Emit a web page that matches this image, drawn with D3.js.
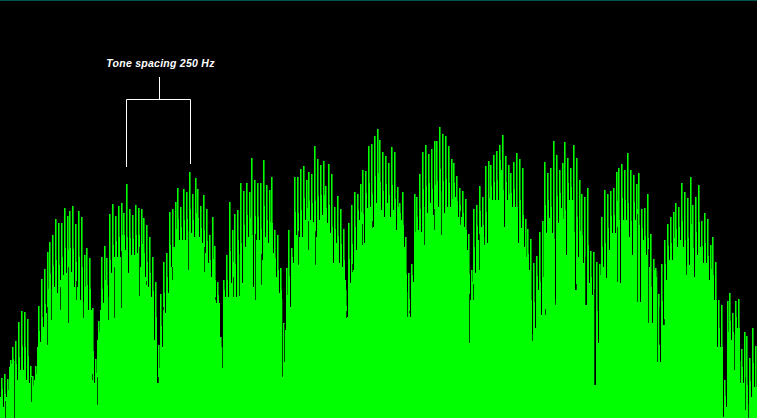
<!DOCTYPE html>
<html><head><meta charset="utf-8">
<script src="https://cdn.jsdelivr.net/npm/d3@7/dist/d3.min.js"></script>
<style>html,body{margin:0;padding:0;background:#000;overflow:hidden}svg{display:block}</style>
</head><body><svg id="c" width="757" height="418"></svg>
<script>
const peaks = [
40,44,39,58,71,77,96,107,106,99,52,42,52,112,139,149,166,176,183,199,195,195,210,202,207,212,194,207,201,163,170,160,110,59,97,161,172,160,204,214,202,212,215,205,234,209,203,213,210,209,200,193,181,161,136,73,124,156,165,206,209,216,230,211,229,226,246,224,240,229,212,223,209,183,201,172,136,81,138,163,216,188,204,208,235,227,235,226,
260,238,235,235,258,233,228,241,188,183,150,95,150,188,170,241,241,249,252,238,246,244,272,259,253,257,232,254,244,211,222,209,189,128,195,213,226,224,234,248,247,272,274,282,289,278,266,262,255,271,266,231,215,226,181,145,154,224,221,244,266,273,264,269,277,277,291,284,282,272,259,255,242,230,227,219,184,148,209,213,232,221,252,257,253,263,267,273,
283,262,253,245,256,265,259,250,199,189,179,155,162,186,197,256,245,250,277,263,248,255,276,260,250,273,260,238,224,221,230,167,166,156,154,201,228,224,227,230,246,250,254,248,265,248,243,234,245,209,210,224,184,159,150,124,154,178,194,201,206,215,211,235,226,220,241,213,221,233,197,205,199,173,181,156,118,113,38,117,125,105,117,119,69,86,82,60,90,72];
const valleys = [
21,11,21,51,51,38,38,48,48,38,35,25,38,71,76,91,105,123,131,131,125,138,143,145,146,141,131,131,118,110,108,108,38,35,78,108,115,115,128,145,161,161,161,168,145,161,163,163,165,151,141,131,121,105,78,35,71,105,125,151,145,171,178,178,178,181,185,181,181,181,175,165,155,141,131,115,115,65,121,121,135,135,121,158,135,171,181,183,
131,178,178,158,181,175,175,165,141,125,113,88,105,111,155,183,181,181,198,191,198,196,181,198,203,200,195,185,155,175,155,151,138,101,135,148,168,198,188,175,210,211,191,215,215,208,201,215,201,208,188,198,198,171,120,101,136,161,188,186,205,205,215,203,203,211,221,205,211,211,193,221,201,201,191,168,118,128,145,178,191,175,175,195,218,218,218,248,
191,218,205,211,211,175,190,171,135,148,78,90,128,103,103,185,200,185,113,195,210,161,163,218,218,128,161,153,155,113,135,123,33,75,136,151,140,168,185,185,198,135,198,198,181,163,198,193,116,178,163,151,95,141,105,56,93,138,158,158,163,171,178,171,146,153,163,141,163,171,155,155,138,133,118,71,71,1,11,65,78,73,90,51,35,8,1,21,31];
const notchBin = [5,14,31,47,51,60,68,76,83,92,97,108,114,121,139,146,155,158,163,172,188,204,215,222,233,239,255,261,282,284,287,298,308,315,334,346,352,362,372,405,407,409,417,424,434,441,460,469,473,479,484,532,534,541,545,555,576,585,594,597,617,637,648,657,659,664,686,723,725,734,740,745,748];
const notchLevel = [0,0,16,73,98,108,95,118,100,38,13,98,100,110,122,133,98,35,108,138,148,146,118,50,121,122,118,133,41,56,112,153,168,153,163,100,146,173,190,188,101,105,188,173,188,183,193,75,118,148,173,77,90,113,103,113,128,113,33,73,136,116,95,56,73,93,143,8,23,48,35,8,0];
const bracketLabel = "Tone spacing 250 Hz";

const W = 757, H = 418, slotWidth = 2.845;
const svg = d3.select("#c");
svg.append("rect").attr("width", W).attr("height", H).attr("fill", "#000");
svg.append("rect").attr("width", W).attr("height", 1).attr("fill", "#00564c");

const y = d3.scaleLinear().domain([0, H]).range([H, 0]);
const xP = d3.scaleLinear().domain([0, peaks.length - 1]).range([1.6, 1.6 + slotWidth * (peaks.length - 1)]);
const xV = d3.scaleLinear().domain([0, valleys.length - 1]).range([1.6, 1.6 + slotWidth * (peaks.length - 1)]);
const xN = d3.scaleLinear().domain([0, W]).range([0, W]);
const crisp = () => svg.append("g").attr("shape-rendering", "crispEdges");

crisp().selectAll("rect").data(peaks).join("rect")
  .attr("x", (d, i) => xP(i) - 0.5).attr("width", 2)
  .attr("y", d => y(d)).attr("height", d => H - y(d))
  .attr("fill", "#009400");

crisp().selectAll("rect").data(peaks).join("rect")
  .attr("x", (d, i) => xP(i) - 0.5).attr("width", 1)
  .attr("y", d => y(d)).attr("height", d => H - y(d))
  .attr("fill", "#00ff00");

const midLevel = peaks.map((p, i) => (valleys[i] || 0) + 0.4 * Math.max(0, p - (valleys[i] || 0)));
crisp().selectAll("rect").data(midLevel).join("rect")
  .attr("x", (d, i) => xP(i) - 0.5).attr("width", 2)
  .attr("y", d => y(d)).attr("height", d => H - y(d))
  .attr("fill", "#00ff00");

crisp().selectAll("rect").data(valleys).join("rect")
  .attr("x", (d, i) => xV(i) - 1.5).attr("width", 3)
  .attr("y", d => y(d)).attr("height", d => H - y(d))
  .attr("fill", "#00ff00");

const slotOf = b => Math.max(0, Math.min(valleys.length - 1, Math.round(xV.invert(xN(b)))));
crisp().selectAll("rect").data(notchLevel).join("rect")
  .attr("x", (d, i) => xN(notchBin[i])).attr("width", 1)
  .attr("y", (d, i) => y(Math.max(d, Math.max(valleys[slotOf(notchBin[i])], 0) + 6)))
  .attr("height", (d, i) => Math.max(0, y(d) - y(Math.max(d, valleys[slotOf(notchBin[i])] + 6))))
  .attr("fill", "#004800");

const bracket = d3.path();
bracket.moveTo(126.5, 167); bracket.lineTo(126.5, 99.5); bracket.lineTo(190.5, 99.5); bracket.lineTo(190.5, 164);
bracket.moveTo(159.5, 77); bracket.lineTo(159.5, 99.5);
svg.append("path").attr("d", bracket.toString()).attr("fill", "none").attr("stroke", "#fff").attr("stroke-width", 1);

svg.append("text").attr("x", 160.5).attr("y", 67).attr("text-anchor", "middle")
  .attr("font-family", "'Liberation Sans', Arial, sans-serif").attr("font-weight", "bold").attr("font-style", "italic")
  .attr("font-size", 10.5).attr("letter-spacing", 0.26).attr("fill", "#fff").text(bracketLabel);
</script></body></html>
